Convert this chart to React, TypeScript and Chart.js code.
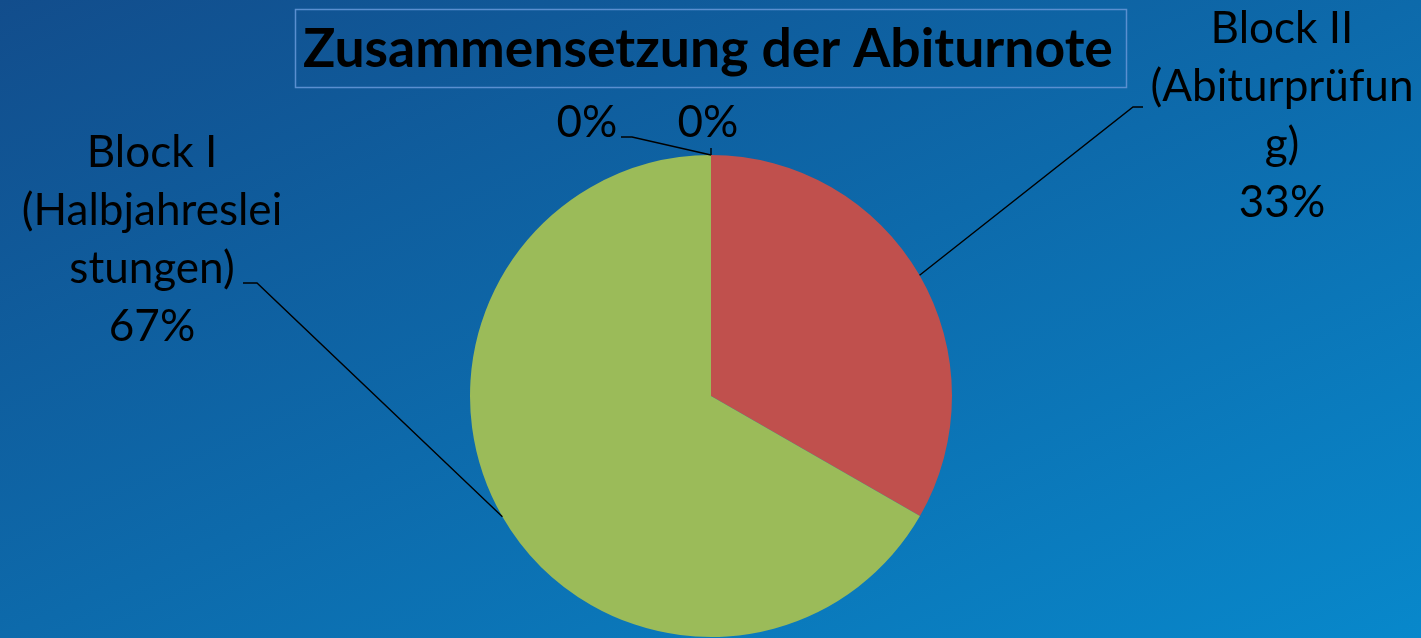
import React, { useEffect, useRef } from "react";
import { Chart, registerables } from "chart.js";

Chart.register(...registerables);

const chartTitle = "Zusammensetzung der Abiturnote";
const categories = ["", "Block II (Abiturprüfung)", "Block I (Halbjahresleistungen)", ""];
const categoryLines = [[], ["Block II", "(Abiturprüfun", "g)"], ["Block I", "(Halbjahreslei", "stungen)"], []];
const values = [0, 33.3, 66.7, 0];
const sliceColors = ["#4F81BD", "#C0504D", "#9BBB59", "#8064A2"];

const W = 1421;
const H = 638;

const FONT = "Lato, 'Open Sans', sans-serif";

function fitSize(ctx: CanvasRenderingContext2D, text: string, weight: string, target: number) {
  ctx.font = `${weight} 100px ${FONT}`;
  const w = ctx.measureText(text).width;
  return (100 * target) / w;
}

// label placement: center x, first baseline, line step, leader line polyline (after anchor)
const placements = [
  { cx: 708, y0: 137, step: 58, leader: [[711, 148]] },
  { cx: 1282, y0: 43, step: 58, leader: [[1133, 107], [1143, 107]] },
  { cx: 152, y0: 167, step: 58, leader: [[257, 283], [243, 283]] },
  { cx: 587, y0: 137, step: 58, leader: [[632, 137], [621, 137]] },
];

const labelPlugin = {
  id: "excelLabels",
  afterDraw(chart: any) {
    const ctx: CanvasRenderingContext2D = chart.ctx;
    ctx.save();
    // title box
    ctx.strokeStyle = "#5a8fd0";
    ctx.lineWidth = 1.5;
    ctx.strokeRect(295.5, 9.5, 831, 78);
    const ts = fitSize(ctx, chartTitle, "bold", 810);
    ctx.font = `bold ${ts}px ${FONT}`;
    ctx.fillStyle = "#000";
    ctx.textAlign = "center";
    ctx.textBaseline = "alphabetic";
    ctx.fillText(chartTitle, 708, 67);

    const total = values.reduce((a, b) => a + b, 0);
    const ls = fitSize(ctx, "(Abiturprüfun", "normal", 263);
    const meta = chart.getDatasetMeta(0);
    meta.data.forEach((arc: any, i: number) => {
      const p = placements[i];
      const mid = (arc.startAngle + arc.endAngle) / 2;
      const ax = arc.x + Math.cos(mid) * arc.outerRadius;
      const ay = arc.y + Math.sin(mid) * arc.outerRadius;
      ctx.strokeStyle = "#000";
      ctx.lineWidth = 1.4;
      ctx.beginPath();
      ctx.moveTo(ax, ay);
      p.leader.forEach((pt) => ctx.lineTo(pt[0], pt[1]));
      ctx.stroke();
      const lines = [...categoryLines[i], Math.round((values[i] / total) * 100) + "%"];
      ctx.font = `normal ${ls}px ${FONT}`;
      ctx.fillStyle = "#000";
      lines.forEach((t, k) => ctx.fillText(t, p.cx, p.y0 + k * p.step));
    });
    ctx.restore();
  },
};

export default function App() {
  const ref = useRef<HTMLCanvasElement>(null);
  useEffect(() => {
    if (!ref.current) return;
    const chart = new Chart(ref.current, {
      type: "pie",
      data: {
        labels: categories,
        datasets: [
          {
            data: values,
            backgroundColor: sliceColors,
            borderWidth: 0,
          },
        ],
      },
      options: {
        responsive: false,
        animation: false,
        layout: { padding: { left: 470, right: 469, top: 155, bottom: 1 } },
        plugins: {
          legend: { display: false },
          tooltip: { enabled: false },
          title: { display: false },
        },
      },
      plugins: [labelPlugin],
    });
    return () => chart.destroy();
  }, []);
  return (
    <div
      style={{
        position: "fixed",
        left: 0,
        top: 0,
        width: W,
        height: H,
        background: "linear-gradient(to bottom right, #124d8c 0%, #0d6aab 50%, #0888cb 100%)",
      }}
    >
      <canvas ref={ref} width={W} height={H} style={{ display: "block" }} />
    </div>
  );
}
